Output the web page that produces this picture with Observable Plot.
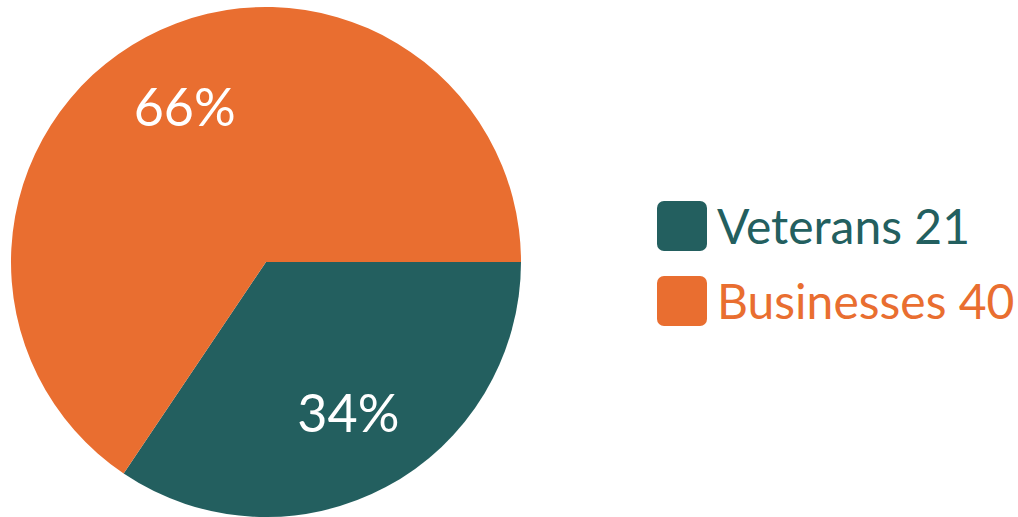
<!DOCTYPE html>
<html>
<head>
<meta charset="utf-8">
<script src="https://cdn.jsdelivr.net/npm/d3@7"></script>
<script src="https://cdn.jsdelivr.net/npm/@observablehq/plot@0.6"></script>
<style>
  html, body { margin: 0; padding: 0; background: #fff; }
  #wrap { position: relative; width: 1018px; height: 517px; overflow: hidden; font-family: Lato, sans-serif; }
  #legend { position: absolute; left: 657px; top: 201px; }
  .item { display: flex; align-items: center; height: 50px; margin-bottom: 25px; }
  .sw { width: 50px; height: 50px; border-radius: 7px; margin-right: 10px; flex: none; }
  .lbl { font-size: 48px; line-height: 50px; white-space: nowrap; }
</style>
</head>
<body>
<div id="wrap"></div>
<script>
const categories = ["Veterans", "Businesses"];
const values = [21, 40];
const percentLabels = ["34%", "66%"];
const colors = ["#235F5F", "#E96E30"];

const data = categories.map((c, i) => ({category: c, value: values[i], label: percentLabels[i]}));

// pie layout starting at 3 o'clock, clockwise
const pie = d3.pie().value(d => d.value).sort(null).startAngle(Math.PI / 2).endAngle(Math.PI / 2 + 2 * Math.PI);
const arcs = pie(data);
const labelR = 0.683;
const labelData = arcs.map(a => {
  const m = (a.startAngle + a.endAngle) / 2;
  return {label: a.data.label, x: labelR * Math.sin(m), y: labelR * Math.cos(m)};
});

const pieMark = (index, scales, values, dimensions) => {
  const cx = (scales.x(-1) + scales.x(1)) / 2;
  const cy = (scales.y(-1) + scales.y(1)) / 2;
  const r = (scales.x(1) - scales.x(-1)) / 2;
  const arc = d3.arc().innerRadius(0).outerRadius(r);
  const g = d3.create("svg:g").attr("transform", `translate(${cx},${cy})`);
  g.selectAll("path").data(arcs).join("path")
    .attr("d", arc)
    .attr("fill", d => scales.color(d.data.category));
  return g.node();
};

const chart = Plot.plot({
  width: 1018,
  height: 517,
  marginLeft: 11,
  marginRight: 497,
  marginTop: 8,
  marginBottom: 1,
  x: {domain: [-1, 1], axis: null},
  y: {domain: [-1, 1], axis: null},
  color: {domain: categories, range: colors},
  style: {fontFamily: "Lato, sans-serif", background: "transparent"},
  marks: [
    pieMark,
    Plot.text(labelData, {x: "x", y: "y", text: "label", fill: "white", fontSize: 52, fontWeight: 400})
  ]
});

const wrap = document.getElementById("wrap");
wrap.appendChild(chart);

const legend = document.createElement("div");
legend.id = "legend";
categories.forEach((c, i) => {
  const item = document.createElement("div");
  item.className = "item";
  const sw = document.createElement("div");
  sw.className = "sw";
  sw.style.background = colors[i];
  const lbl = document.createElement("div");
  lbl.className = "lbl";
  lbl.style.color = colors[i];
  lbl.textContent = `${c} ${values[i]}`;
  item.appendChild(sw);
  item.appendChild(lbl);
  legend.appendChild(item);
});
wrap.appendChild(legend);
</script>
</body>
</html>
